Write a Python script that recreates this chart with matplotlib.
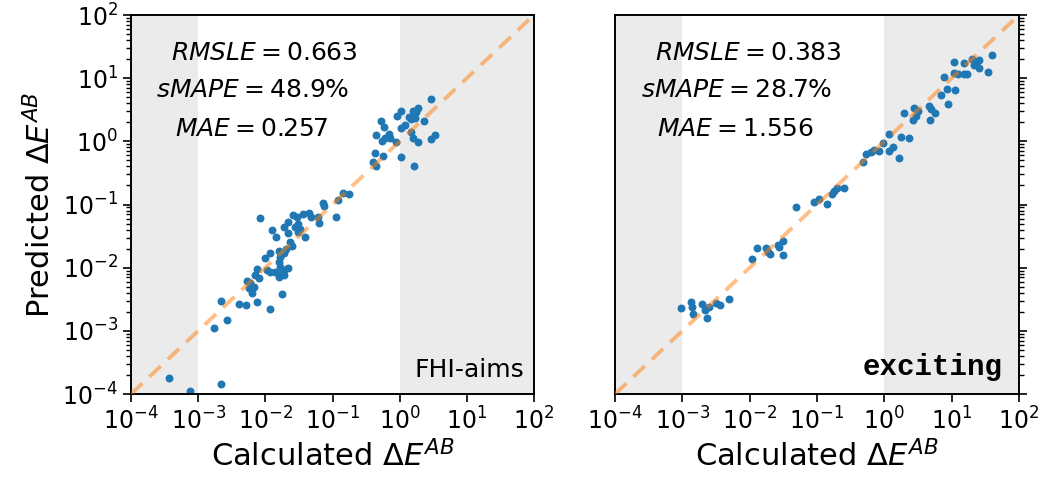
'''
Predicted vs calculated Delta E^AB for two codes (log-log parity plots)
'''

from matplotlib import pyplot as plt

# FHI-aims panel: calculated and predicted values
fhi_calc = [2.88, 1.06, 0.90, 1.57, 1.87, 1.77, 1.37, 1.49, 1.71, 0.52,
            0.58, 1.19, 1.06, 2.29, 0.44, 0.69, 0.60, 0.55, 0.71, 0.89,
            1.49, 1.57, 1.87, 3.41, 2.88, 0.43, 0.40, 0.57, 0.45, 1.06,
            1.63, 0.145, 0.177, 0.122, 0.0716, 0.0748, 0.113, 0.0262, 0.0295, 0.0362,
            0.0453, 0.0475, 0.0617, 0.0637, 0.0214, 0.0311, 0.0278, 0.0330, 0.0302, 0.0187,
            0.0214, 0.0392, 0.0229, 0.0249, 0.0205, 0.0191, 0.0167, 0.0221, 0.0187, 0.0191,
            0.0126, 0.0144, 0.0157, 0.0082, 0.0119, 0.0100, 0.0157, 0.0167, 0.0177, 0.0157,
            0.0075, 0.0071, 0.0080, 0.0106, 0.0119, 0.0141, 0.0054, 0.0060, 0.0067, 0.0057,
            0.0064, 0.0177, 0.0074, 0.0022, 0.0040, 0.0052, 0.0119, 0.0027, 0.0017, 0.00037,
            0.0022, 0.00076]
fhi_pred = [4.63, 3.03, 2.55, 3.03, 3.34, 2.95, 2.40, 2.24, 2.32, 2.13,
            1.67, 1.82, 1.65, 2.13, 1.26, 1.31, 1.12, 1.01, 1.12, 0.99,
            1.42, 1.12, 0.97, 1.26, 1.09, 0.65, 0.47, 0.59, 0.40, 0.57,
            0.41, 0.154, 0.146, 0.118, 0.105, 0.0962, 0.0630, 0.0684, 0.0644, 0.0710,
            0.0744, 0.0644, 0.0644, 0.0518, 0.0525, 0.0493, 0.0437, 0.0407, 0.0373, 0.0437,
            0.0352, 0.0310, 0.0259, 0.0221, 0.0196, 0.0170, 0.0150, 0.0098, 0.0092, 0.0077,
            0.0396, 0.0304, 0.0187, 0.0607, 0.0173, 0.0141, 0.0125, 0.0104, 0.0082, 0.0072,
            0.0095, 0.0077, 0.0068, 0.0092, 0.0084, 0.0087, 0.0062, 0.0057, 0.0050, 0.0047,
            0.0040, 0.0039, 0.0029, 0.0030, 0.0027, 0.0026, 0.0022, 0.0015, 0.0011, 0.00018,
            0.000144, 0.00011]

# exciting panel
exc_calc = [0.00097, 0.00136, 0.00139, 0.00146, 0.00198, 0.00214, 0.00235, 0.00248, 0.00319, 0.00366,
            0.00486, 0.0109, 0.0130, 0.0176, 0.0186, 0.0204, 0.0262, 0.0269, 0.0311, 0.0311,
            0.048, 0.0897, 0.106, 0.140, 0.168, 0.182, 0.200, 0.256, 0.479, 0.537,
            0.637, 0.713, 0.826, 0.970, 1.16, 1.36, 1.19, 1.78, 2.30, 1.64,
            1.99, 2.80, 3.13, 2.96, 2.70, 4.56, 4.94, 5.73, 4.83, 6.97,
            8.73, 8.63, 11.3, 7.80, 10.7, 12.3, 15.4, 17.1, 11.0, 15.1,
            20.3, 21.7, 23.0, 25.2, 25.5, 34.2, 39.5]
exc_pred = [0.00234, 0.00291, 0.00242, 0.00182, 0.00267, 0.00215, 0.00159, 0.00242, 0.00274, 0.00258,
            0.00321, 0.0136, 0.0208, 0.0204, 0.0180, 0.0165, 0.0230, 0.0216, 0.0265, 0.0160,
            0.0927, 0.109, 0.123, 0.102, 0.146, 0.166, 0.181, 0.185, 0.478, 0.632,
            0.687, 0.731, 0.705, 0.953, 1.31, 0.824, 0.713, 1.19, 1.12, 0.536,
            2.84, 3.34, 3.06, 2.52, 2.14, 3.63, 3.22, 2.79, 2.18, 5.32,
            3.91, 6.80, 6.50, 10.3, 12.0, 11.7, 11.7, 11.6, 18.2, 17.4,
            19.9, 16.2, 17.2, 19.4, 14.3, 12.3, 23.3]

fhi_stats = ['$RMSLE = 0.663$', r'$sMAPE = 48.9\%$', '$MAE = 0.257$']
exc_stats = ['$RMSLE = 0.383$', r'$sMAPE = 28.7\%$', '$MAE = 1.556$']

lims = (1e-4, 1e2)
ticks = [1e-4, 1e-3, 1e-2, 1e-1, 1e0, 1e1, 1e2]

# where each stats line sits (axes fraction, baseline)
stat_x = [0.331, 0.301, 0.299]
stat_y = [0.881, 0.784, 0.681]


def draw_panel(ax, calc, pred, stats):
    ax.axvspan(lims[0], 1e-3, color='#ebebeb', lw=0, zorder=0)
    ax.axvspan(1e0, lims[1], color='#ebebeb', lw=0, zorder=0)
    ax.scatter(calc, pred, s=22, color='tab:blue', zorder=2)
    ax.plot(lims, lims, '--', color='tab:orange', alpha=0.5, lw=2.8,
            dashes=(4, 2.5), zorder=3)
    ax.set_xscale('log')
    ax.set_yscale('log')
    ax.set_xlim(lims)
    ax.set_ylim(lims)
    ax.set_xticks(ticks)
    ax.set_yticks(ticks)
    ax.tick_params(labelsize=17, length=6, width=1.2)
    ax.tick_params(which='minor', length=3.5, width=1)
    for s in ax.spines.values():
        s.set_linewidth(1.4)
    ax.set_xlabel(r'Calculated $\Delta E^{AB}$', fontsize=22)
    for txt, x, y in zip(stats, stat_x, stat_y):
        ax.text(x, y, txt, transform=ax.transAxes,
                ha='center', va='baseline', fontsize=18)


fig = plt.figure(figsize=(10.45, 4.78), dpi=100)
ax1 = fig.add_axes([0.1254, 0.1757, 0.3856, 0.7929])
ax2 = fig.add_axes([0.5885, 0.1757, 0.3866, 0.7929])

draw_panel(ax1, fhi_calc, fhi_pred, fhi_stats)
draw_panel(ax2, exc_calc, exc_pred, exc_stats)

ax1.set_ylabel(r'Predicted $\Delta E^{AB}$', fontsize=22)
ax1.text(0.975, 0.046, 'FHI-aims', transform=ax1.transAxes,
         ha='right', va='baseline', fontsize=18)

ax2.yaxis.tick_right()
ax2.tick_params(axis='y', which='both', labelright=False)
ax2.text(0.96, 0.05, 'exciting', transform=ax2.transAxes,
         ha='right', va='baseline', fontsize=21, fontweight='bold',
         family=['Liberation Mono', 'DejaVu Sans Mono'])

plt.savefig('out.png', dpi=100)
